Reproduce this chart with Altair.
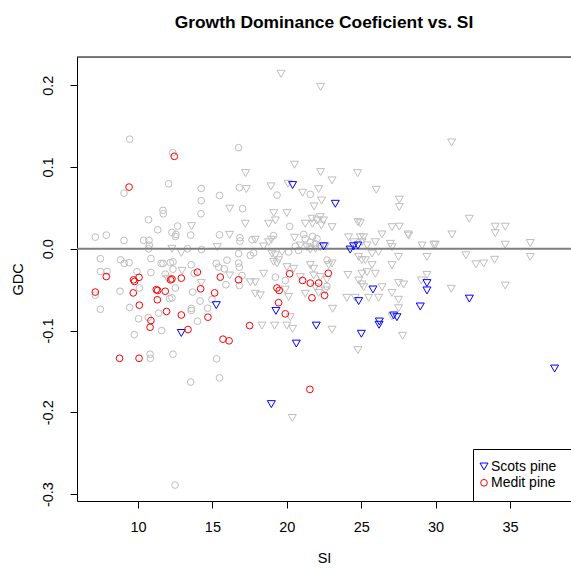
import altair as alt
import pandas as pd

# ---------------- data ----------------
scots_si = [20.39, 23.26, 15.26, 12.91, 22.47, 24.26, 24.49, 24.78, 25.79, 24.83,
            19.27, 27.18, 26.22, 26.20, 21.98, 25.01, 20.64, 18.96, 29.42, 29.42,
            32.27, 28.97, 27.40, 38.0]
scots_gdc = [0.0779, 0.055, -0.069, -0.103, 0.003, -0.001, 0.003, 0.004, -0.0498, -0.064,
             -0.076, -0.0816, -0.089, -0.093, -0.094, -0.104, -0.116, -0.190, -0.042, -0.051,
             -0.061, -0.0706, -0.0837, -0.1465]

medit_si = [12.44, 9.40, 7.87, 13.99, 9.70, 9.77, 10.07, 12.19, 12.28, 12.91,
            15.53, 7.13, 9.68, 11.23, 11.32, 11.30, 11.83, 14.21, 15.15, 10.09,
            11.92, 12.91, 10.87, 10.81, 13.36, 14.70, 15.71, 16.12, 8.76, 10.07,
            21.55, 16.76, 20.19, 19.34, 19.49, 21.06, 21.58, 22.14, 22.79, 22.54,
            21.69, 19.45, 19.90, 17.50]
medit_gdc = [0.113, 0.0754, -0.034, -0.0286, -0.038, -0.040, -0.035, -0.038, -0.037, -0.036,
             -0.0347, -0.053, -0.054, -0.050, -0.051, -0.0624, -0.052, -0.049, -0.054, -0.069,
             -0.0767, -0.081, -0.0878, -0.096, -0.0988, -0.0837, -0.1106, -0.1126, -0.134, -0.134,
             -0.172, -0.038, -0.0306, -0.048, -0.051, -0.0388, -0.042, -0.042, -0.030, -0.057,
             -0.060, -0.066, -0.0796, -0.094]

other_circ_si = [9.44, 12.33, 12.06, 9.06, 14.25, 14.25, 15.48, 11.68, 16.76, 16.81,
                 19.34, 21.58, 17.03, 10.71, 11.70, 14.23, 12.66, 11.32, 12.28, 12.55,
                 12.51, 13.54, 15.48, 7.13, 7.87, 9.06, 10.38, 10.74, 10.76, 10.71,
                 13.33, 14.27, 7.47, 8.83, 9.08, 9.40, 10.87, 11.55, 11.68, 12.17,
                 12.35, 13.58, 15.26, 15.42, 15.98, 7.47, 7.92, 9.93, 10.87, 11.83,
                 12.35, 13.78, 15.80, 15.91, 7.13, 8.79, 10.09, 12.51, 12.12, 12.28,
                 13.67, 14.17, 14.97, 14.68, 7.47, 9.44, 11.38, 13.58, 13.58, 10.04,
                 10.69, 11.59, 14.0, 9.75, 10.81, 10.83, 12.35, 15.28, 13.54, 15.48,
                 12.49, 20.19, 16.85, 16.85, 17.66, 19.11, 21.13, 21.24, 21.58, 21.73,
                 21.92, 22.03, 20.57, 20.79, 20.12, 16.76, 17.55, 17.77, 16.76, 16.81,
                 22.70, 16.99, 16.81, 19.23, 19.90, 22.70]
other_circ_gdc = [0.134, 0.1175, 0.0795, 0.068, 0.0738, 0.0588, 0.0652, 0.047, 0.1236, 0.0747,
                  0.0656, 0.0665, 0.049, 0.0355, 0.0428, 0.0428, 0.0277, 0.0232, 0.020, 0.0175,
                  0.015, 0.0167, 0.017, 0.0142, 0.0167, 0.0102, 0.0102, 0.0102, 0.0044, 0.0,
                  0.0, -0.001, -0.0122, -0.0135, -0.018, -0.017, -0.012, -0.018, -0.018, -0.017,
                  -0.016, -0.0196, -0.018, -0.0225, -0.014, -0.0278, -0.0278, -0.028, -0.029, -0.031,
                  -0.025, -0.030, -0.0245, -0.044, -0.0568, -0.052, -0.048, -0.048, -0.061, -0.060,
                  -0.053, -0.064, -0.062, -0.0727, -0.074, -0.0718, -0.0788, -0.073, -0.0755, -0.0857,
                  -0.084, -0.100, -0.0886, -0.105, -0.129, -0.134, -0.129, -0.1347, -0.163, -0.158,
                  -0.289, 0.0273, 0.0135, 0.0093, 0.011, 0.016, 0.0175, 0.0122, 0.008, 0.015,
                  0.006, 0.0122, 0.003, -0.002, -0.004, -0.006, -0.008, -0.005, -0.0176, -0.0225,
                  -0.014, -0.0327, -0.045, -0.0347, -0.0388, -0.046]

other_tri_si = [16.16, 19.61, 22.27, 20.52, 17.23, 22.27, 24.76, 23.04, 17.28, 18.94,
                20.08, 21.06, 22.14, 26.01, 22.34, 21.83, 31.08, 27.56, 27.56, 13.60,
                16.16, 12.28, 12.91, 15.33, 12.96, 16.16, 11.99, 14.25, 17.21, 18.78,
                19.23, 19.12, 20.01, 21.24, 21.69, 21.73, 22.03, 22.25, 22.32, 22.47,
                23.04, 24.78, 24.94, 27.07, 17.88, 18.78, 18.96, 18.44, 20.52, 20.91,
                21.36, 21.58, 21.92, 22.25, 22.59, 24.15, 24.49, 24.94, 25.16, 25.05,
                25.39, 25.95, 26.40, 26.96, 27.07, 25.73, 26.17, 19.0, 19.23, 19.68,
                19.11, 19.34, 19.45, 20.01, 20.46, 21.58, 21.80, 22.81, 23.04, 24.83,
                25.05, 25.28, 25.73, 27.07, 17.55, 17.88, 18.44, 17.88, 18.22, 19.90,
                20.12, 20.91, 21.24, 21.80, 21.92, 22.25, 22.70, 22.14, 22.59, 24.11,
                25.05, 25.39, 25.95, 24.83, 25.05, 25.16, 26.40, 27.07, 24.04, 24.60,
                25.50, 26.17, 23.08, 20.24, 27.07, 18.33, 19.18, 20.01, 20.39, 23.04,
                24.78, 20.37, 32.26, 27.56, 28.15, 28.19, 34.01, 34.68, 34.01, 31.10,
                29.09, 29.87, 29.98, 34.68, 36.36, 27.51, 29.42, 32.04, 32.71, 33.23,
                33.96, 36.36, 29.42, 27.51, 27.85, 29.04, 31.05, 34.68, 27.51, 27.51,
                27.78]
other_tri_gdc = [0.049, 0.214, 0.198, 0.1028, 0.0925, 0.0938, 0.0925, 0.0836, 0.073, 0.0763,
                 0.0795, 0.0685, 0.073, 0.0722, 0.059, 0.0518, 0.130, 0.06, 0.051, 0.0277,
                 0.017, 0.0, -0.005, 0.002, -0.027, -0.0327, -0.0367, -0.042, 0.0306, 0.0306,
                 0.0346, 0.0436, 0.0436, 0.0306, 0.0367, 0.0306, 0.0346, 0.0387, 0.0285, 0.0346,
                 0.0264, 0.0326, 0.0313, 0.0264, 0.011, 0.008, 0.011, 0.0028, 0.0135, 0.004,
                 0.002, -0.001, 0.0, 0.002, 0.003, 0.014, 0.008, 0.014, 0.014, 0.008,
                 0.004, 0.008, 0.0175, 0.006, 0.002, -0.006, -0.004, -0.006, -0.008, -0.004,
                 -0.016, -0.018, -0.014, -0.0225, -0.0245, -0.020, -0.0245, -0.020, -0.018, -0.010,
                 -0.014, -0.014, -0.020, -0.020, -0.041, -0.041, -0.0306, -0.055, -0.057, -0.050,
                 -0.059, -0.0347, -0.055, -0.0327, -0.047, -0.0347, -0.038, -0.054, -0.051, -0.032,
                 -0.0306, -0.0286, -0.0306, -0.0388, -0.0437, -0.047, -0.047, -0.054, -0.060, -0.060,
                 -0.060, -0.060, -0.0734, -0.0837, -0.083, -0.094, -0.094, -0.094, -0.098, -0.099,
                 -0.124, -0.207, 0.0367, 0.027, 0.0175, 0.016, 0.027, 0.027, 0.019, 0.0175,
                 0.004, 0.005, 0.005, 0.005, 0.007, -0.010, -0.010, -0.008, -0.019, -0.018,
                 -0.0135, -0.010, -0.032, -0.042, -0.0437, -0.0388, -0.049, -0.045, -0.0624, -0.0727,
                 -0.1065]

x_ticks = [10, 15, 20, 25, 30, 35]
y_ticks = [-0.3, -0.2, -0.1, 0.0, 0.1, 0.2]
species = ["Scots pine", "Medit pine"]

# ---------------- layout ----------------
W, H = 494, 444
FONT = "Liberation Sans"
GRAY = "#BEBEBE"

xsc = alt.Scale(domain=[5.9, 39.1], nice=False, zero=False)
ysc = alt.Scale(domain=[-0.3085, 0.2345], nice=False, zero=False)

xax = alt.Axis(values=x_ticks, title="SI", grid=False, tickSize=7, tickColor="black",
               domainColor="black", labelColor="black", labelFontSize=14.5, labelFont=FONT,
               labelPadding=12, titleFont=FONT, titleFontSize=14.5, titleFontWeight="normal",
               titleColor="black", titleY=57, titleBaseline="middle")
yax = alt.Axis(values=y_ticks, title="GDC", grid=False, tickSize=7, tickColor="black",
               domainColor="black", labelColor="black", labelFontSize=14.5, labelFont=FONT,
               labelAngle=270, labelAlign="center", labelBaseline="bottom", labelPadding=14.5,
               labelExpr="datum.value < 0 ? '-' + format(-datum.value, '.1f') : format(datum.value, '.1f')",
               titleFont=FONT, titleFontSize=14.5, titleFontWeight="normal", titleColor="black",
               titleAngle=270, titleX=-59, titleY=H / 2, titleAlign="center", titleBaseline="middle")

circ_df = pd.DataFrame({"SI": other_circ_si, "GDC": other_circ_gdc})
tri_df = pd.DataFrame({"SI": other_tri_si, "GDC": other_tri_gdc})
col_df = pd.concat([
    pd.DataFrame({"SI": scots_si, "GDC": scots_gdc, "species": species[0]}),
    pd.DataFrame({"SI": medit_si, "GDC": medit_gdc, "species": species[1]}),
], ignore_index=True)

gray_circ = alt.Chart(circ_df).mark_point(shape="circle", filled=False, color=GRAY,
                                          size=45, strokeWidth=1, opacity=1).encode(
    x=alt.X("SI:Q", scale=xsc, axis=xax),
    y=alt.Y("GDC:Q", scale=ysc, axis=yax),
)
gray_tri = alt.Chart(tri_df).mark_point(shape="triangle-down", filled=False, color=GRAY,
                                        size=64, strokeWidth=1, opacity=1).encode(
    x=alt.X("SI:Q", scale=xsc),
    y=alt.Y("GDC:Q", scale=ysc),
)
zero_line = alt.Chart(pd.DataFrame({"GDC": [0.0]})).mark_rule(color="#7F7F7F", strokeWidth=2).encode(
    y=alt.Y("GDC:Q", scale=ysc)
)

# the legend box runs past the right edge of the picture, as in the reference
leg = alt.Legend(title="\u00a0", titleColor="white", titleFontSize=2, titlePadding=40,
                 titleOrient="right",
                 orient="none", legendX=396, legendY=392, strokeColor="black",
                 fillColor="white", padding=10.5, cornerRadius=0, labelFont=FONT, labelFontSize=14,
                 labelColor="black", symbolSize=55, symbolStrokeWidth=1, rowPadding=2.3,
                 labelOffset=0, symbolOffset=-6.5, symbolFillColor="transparent")

colored = alt.Chart(col_df).mark_point(filled=False, strokeWidth=1, opacity=1).encode(
    x=alt.X("SI:Q", scale=xsc),
    y=alt.Y("GDC:Q", scale=ysc),
    color=alt.Color("species:N", scale=alt.Scale(domain=species, range=["#0000FF", "#FF0000"]), legend=leg),
    shape=alt.Shape("species:N", scale=alt.Scale(domain=species, range=["triangle-down", "circle"]), legend=leg),
    size=alt.Size("species:N", scale=alt.Scale(domain=species, range=[64, 45]), legend=None),
)

top_border = alt.Chart(pd.DataFrame({"k": [0]})).mark_rule(color="black", strokeWidth=1).encode(
    y=alt.value(0), x=alt.value(0), x2=alt.value(W)
)

chart = alt.layer(gray_circ, gray_tri, zero_line, colored, top_border).properties(
    width=W, height=H,
    title=alt.TitleParams("Growth Dominance Coeficient vs. SI", font=FONT, fontSize=17.4,
                          fontWeight="bold", color="black", anchor="middle", frame="group",
                          baseline="alphabetic", offset=11),
    autosize=alt.AutoSizeParams(type="none"),
    padding={"left": 77, "top": 57, "right": 0, "bottom": 68},
).configure_view(stroke=None).configure(background="white")

chart.save("out.html", embed_options={"renderer": "svg", "actions": False})
